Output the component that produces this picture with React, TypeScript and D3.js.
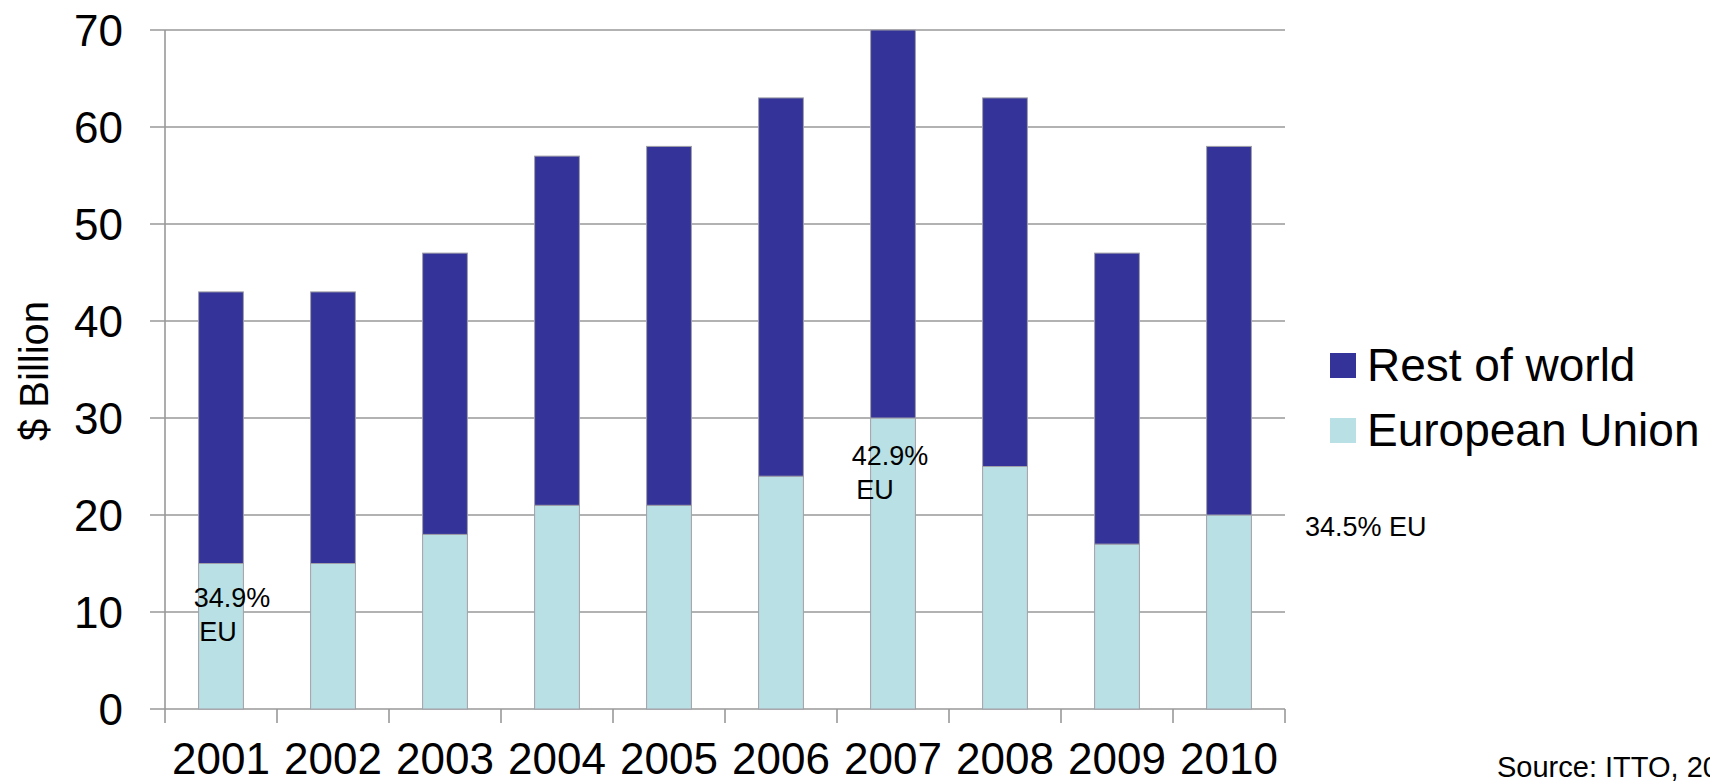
import React from "react";
import * as d3 from "d3";

const years = ["2001", "2002", "2003", "2004", "2005", "2006", "2007", "2008", "2009", "2010"];
const totals = [43, 43, 47, 57, 58, 63, 70, 63, 47, 58];
const euValues = [15, 15, 18, 21, 21, 24, 30, 25, 17, 20];
const restValues = totals.map((t, i) => t - euValues[i]);
const yTicks = [0, 10, 20, 30, 40, 50, 60, 70];
const seriesNames = ["Rest of world", "European Union"];
const seriesColors = ["#333399", "#b9e0e4"];

const W = 1710;
const H = 782;
const FONT = "'Liberation Sans', Arial, Helvetica, sans-serif";

export default function App() {
  const x = d3.scaleBand<string>().domain(years).range([165, 1285]).paddingInner(0.6).paddingOuter(0.3);
  const y = d3.scaleLinear().domain([0, 70]).range([709, 30]);
  const step = x.step();
  const bw = x.bandwidth();
  const cx = (yr: string) => (x(yr) as number) + bw / 2;

  const stacked = d3.stack<any>().keys(["eu", "rest"])(
    years.map((yr, i) => ({ year: yr, eu: euValues[i], rest: restValues[i] }))
  );

  return (
    <svg
      width={W}
      height={H}
      style={{ position: "fixed", left: 0, top: 0, background: "#fff" }}
      fontFamily={FONT}
    >
      {/* gridlines */}
      {yTicks.map((t) => (
        <line key={"g" + t} x1={150} x2={1285} y1={y(t)} y2={y(t)} stroke="#999" strokeWidth={1.6} />
      ))}
      {/* y axis line */}
      <line x1={165} x2={165} y1={y(70)} y2={y(0) + 14} stroke="#999" strokeWidth={1.6} />
      {/* category ticks */}
      {years.map((yr, i) => (
        <line
          key={"t" + yr}
          x1={165 + step * (i + 1)}
          x2={165 + step * (i + 1)}
          y1={y(0)}
          y2={y(0) + 14}
          stroke="#999"
          strokeWidth={1.6}
        />
      ))}
      {/* bars */}
      {stacked.map((layer) =>
        layer.map((d, i) => (
          <rect
            key={layer.key + i}
            x={x(years[i])}
            width={bw}
            y={y(d[1])}
            height={y(d[0]) - y(d[1])}
            fill={layer.key === "eu" ? seriesColors[1] : seriesColors[0]}
            stroke="#a0a0a8"
            strokeWidth={1}
          />
        ))
      )}
      {/* y tick labels */}
      {yTicks.map((t) => (
        <text key={"yl" + t} x={123} y={y(t)} dy="0.36em" textAnchor="end" fontSize={44} fill="#000">
          {t}
        </text>
      ))}
      {/* x labels */}
      {years.map((yr) => (
        <text key={"xl" + yr} x={cx(yr)} y={774} textAnchor="middle" fontSize={44} fill="#000">
          {yr}
        </text>
      ))}
      {/* y title */}
      <text
        transform={`translate(48,371) rotate(-90)`}
        textAnchor="middle"
        fontSize={40}
        fill="#000"
      >
        $ Billion
      </text>
      {/* annotations */}
      <text x={cx("2001") + 11} y={y(10.55)} textAnchor="middle" fontSize={27} fill="#000">34.9%</text>
      <text x={cx("2001") - 3} y={y(7)} textAnchor="middle" fontSize={27} fill="#000">EU</text>
      <text x={cx("2007") - 3} y={y(25.15)} textAnchor="middle" fontSize={27} fill="#000">42.9%</text>
      <text x={cx("2007") - 18} y={y(21.7)} textAnchor="middle" fontSize={27} fill="#000">EU</text>
      <text x={1305} y={y(17.8)} textAnchor="start" fontSize={27} fill="#000">34.5% EU</text>
      {/* legend */}
      {seriesNames.map((name, i) => (
        <g key={name} transform={`translate(1330,${353 + i * 65})`}>
          <rect width={26} height={25} fill={seriesColors[i]} />
          <text x={37} y={28} fontSize={46} fill="#000">{name}</text>
        </g>
      ))}
      {/* source */}
      <text x={1497} y={777} fontSize={29} fill="#000">Source: ITTO, 2011</text>
    </svg>
  );
}
